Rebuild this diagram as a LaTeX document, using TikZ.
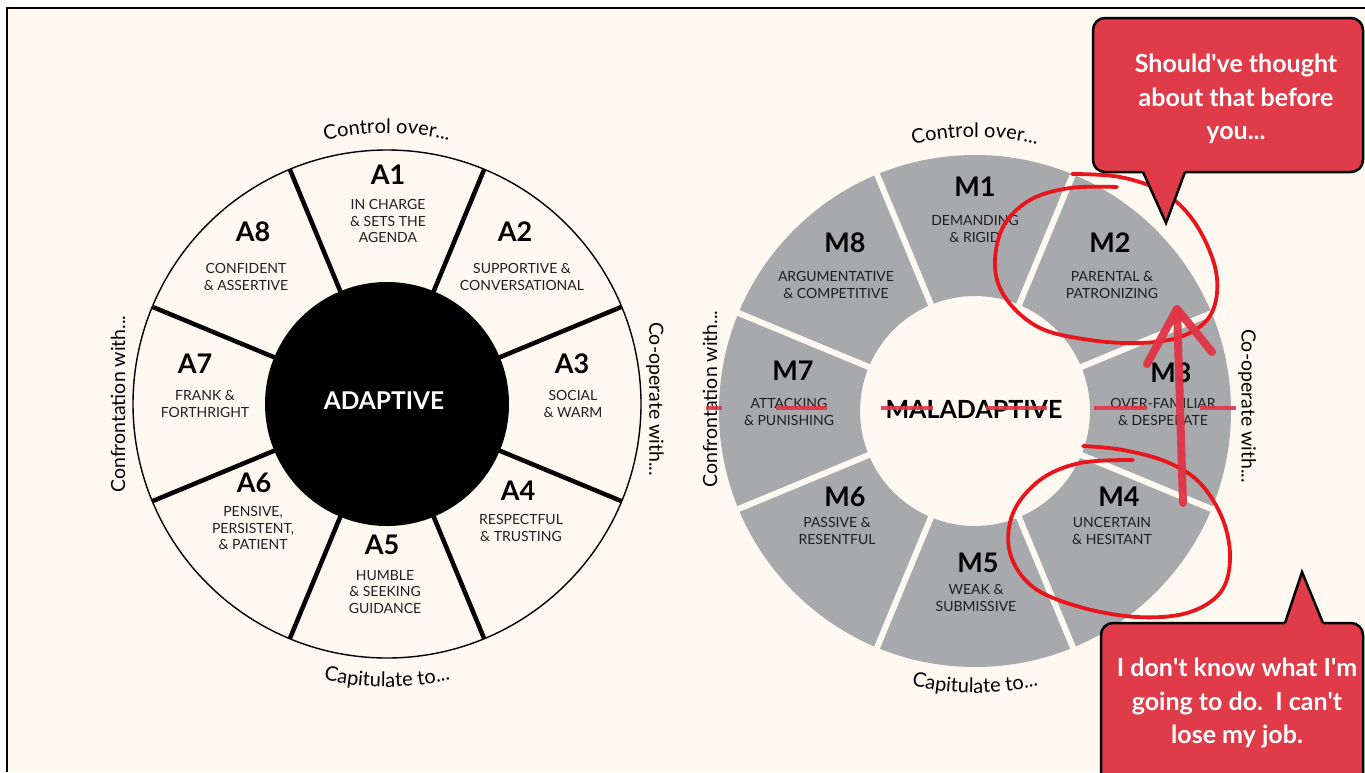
\documentclass[tikz,border=0pt]{standalone}
\usepackage{fontspec}
\setmainfont{Lato}
\usetikzlibrary{decorations.text}
\definecolor{bg}{RGB}{253,249,241}
\definecolor{wheelgray}{RGB}{167,169,172}
\definecolor{callred}{RGB}{224,59,73}
\definecolor{inkred}{RGB}{232,22,28}
\definecolor{arrowred}{RGB}{226,52,70}
\tikzset{
 wtitle/.style={font=\fontsize{27}{27}\selectfont\bfseries, text=black, inner sep=0},
 wdesc/.style={font=\fontsize{14}{16.3}\selectfont, align=center, inner sep=0, text=black!88},
 sidelbl/.style={font=\fontsize{19.5}{19.5}\selectfont, inner sep=0},
 spoke/.style={line width=4.5, draw=black},
 gapline/.style={line width=6, draw=bg},
 inkloop/.style={draw=inkred, line width=3.8, line cap=round},
 redmark/.style={draw=arrowred, line width=3.5, opacity=0.9},
 bubble/.style={fill=callred, draw=black, line width=2.5, rounded corners=12},
 bubbletext/.style={font=\fontsize{25}{33.5}\selectfont\bfseries, text=white, align=center, inner sep=0},
}
\begin{document}
\begin{tikzpicture}[x=1pt,y=-1pt]
\useasboundingbox (0,0) rectangle (1365,772);
\fill[white] (0,0) rectangle (1365,772);
\fill[bg] (7,8) rectangle (1365,772);
\draw[line width=2.5] (7,772) -- (7,8) -- (1365,8);

% ---------- left wheel ----------
\coordinate (LC) at (387,404);
\draw[line width=1.4] (LC) circle (254);
\foreach \a in {22.5,67.5,...,337.5}
  \draw[spoke] ([shift={(\a:118)}]LC) -- ([shift={(\a:254)}]LC);
\fill[black] (LC) circle (122);
\node[font=\fontsize{24.5}{24.5}\selectfont\bfseries, text=white, inner sep=0] (adaptive) at (384,401) {ADAPTIVE};

\node[wtitle] (a1t) at (388,175) {A1};
\node[wdesc] (a1d) at (388,221) {IN CHARGE\\\& SETS THE\\AGENDA};
\node[wtitle] (a2t) at (515,232) {A2};
\node[wdesc] (a2d) at (522,277) {SUPPORTIVE \&\\CONVERSATIONAL};
\node[wtitle] (a3t) at (572,364) {A3};
\node[wdesc] (a3d) at (573,404) {SOCIAL\\\& WARM};
\node[wtitle] (a4t) at (518,491) {A4};
\node[wdesc] (a4d) at (521,528) {RESPECTFUL\\\& TRUSTING};
\node[wtitle] (a5t) at (382,545) {A5};
\node[wdesc] (a5d) at (385,592) {HUMBLE\\\& SEEKING\\GUIDANCE};
\node[wtitle] (a6t) at (254,483) {A6};
\node[wdesc] (a6d) at (253,528) {PENSIVE,\\PERSISTENT,\\\& PATIENT};
\node[wtitle] (a7t) at (195,364) {A7};
\node[wdesc] (a7d) at (205,404) {FRANK \&\\FORTHRIGHT};
\node[wtitle] (a8t) at (253,232) {A8};
\node[wdesc] (a8d) at (246,277) {CONFIDENT\\\& ASSERTIVE};

\path[decorate, decoration={text along path, text align=center,
  text={|\fontsize{20}{20}\selectfont|Control over...}}]
  ([shift={(-118:271)}]LC) arc[start angle=-118, end angle=-62, radius=271];
\path[decorate, decoration={text along path, text align=center,
  text={|\fontsize{20}{20}\selectfont|Capitulate to...}}]
  ([shift={(-240:283)}]LC) arc[start angle=-240, end angle=-300, radius=283];
\node[sidelbl, rotate=90] (lconf) at (118,404) {Confrontation with...};
\node[sidelbl, rotate=-90] (lcoop) at (655,399) {Co-operate with...};

% ---------- right wheel ----------
\coordinate (RC) at (975,411);
\fill[wheelgray, even odd rule] (RC) circle (256) (RC) circle (115);
\foreach \a in {22.5,67.5,...,337.5}
  \draw[gapline] ([shift={(\a:108)}]RC) -- ([shift={(\a:262)}]RC);
\node[font=\fontsize{25}{25}\selectfont\bfseries, text=black, inner sep=0] (maladaptive) at (974,409) {MALADAPTIVE};

\node[wtitle] (m1t) at (975,187) {M1};
\node[wdesc] (m1d) at (975,229) {DEMANDING\\\& RIGID};
\node[wtitle] (m2t) at (1110,243) {M2};
\node[wdesc] (m2d) at (1112,285) {PARENTAL \&\\PATRONIZING};
\node[wtitle] (m3t) at (1171,373) {M3};
\node[wdesc] (m3d) at (1163,412) {OVER-FAMILIAR\\\& DESPERATE};
\node[wtitle] (m4t) at (1119,497) {M4};
\node[wdesc] (m4d) at (1112,531) {UNCERTAIN\\\& HESITANT};
\node[wtitle] (m5t) at (978,563) {M5};
\node[wdesc] (m5d) at (976,598) {WEAK \&\\SUBMISSIVE};
\node[wtitle] (m6t) at (845,497) {M6};
\node[wdesc] (m6d) at (837,531) {PASSIVE \&\\RESENTFUL};
\node[wtitle] (m7t) at (793,371) {M7};
\node[wdesc] (m7d) at (789,412) {ATTACKING\\\& PUNISHING};
\node[wtitle] (m8t) at (845,243) {M8};
\node[wdesc] (m8d) at (836,285) {ARGUMENTATIVE\\\& COMPETITIVE};

\path[decorate, decoration={text along path, text align=center,
  text={|\fontsize{20}{20}\selectfont|Control over...}}]
  ([shift={(-118:274)}]RC) arc[start angle=-118, end angle=-62, radius=274];
\path[decorate, decoration={text along path, text align=center,
  text={|\fontsize{20}{20}\selectfont|Capitulate to...}}]
  ([shift={(-240:282)}]RC) arc[start angle=-240, end angle=-300, radius=282];
\node[sidelbl, rotate=90] (rconf) at (710,399) {Confrontation with...};
\node[sidelbl, rotate=-90] (rcoop) at (1247,406) {Co-operate with...};

% ---------- red strike marks ----------
\foreach \s/\e in {706/722, 776/827, 881/933, 986/1047, 1094/1147, 1200/1236}
  \draw[redmark] (\s,408) -- (\e,408);

% ---------- hand-drawn loops ----------
\draw[inkloop] plot[smooth, tension=0.6] coordinates {(1072,174) (1120,177) (1163,192) (1193,220) (1213,260) (1217,293) (1207,320) (1180,337) (1140,343) (1090,340) (1040,328) (1007,300) (995,267) (1003,227) (1030,200) (1070,188) (1117,187)};
\draw[inkloop] plot[smooth, tension=0.6] coordinates {(1083,446) (1123,450) (1167,462) (1200,483) (1223,520) (1230,560) (1220,593) (1187,613) (1137,617) (1080,607) (1033,587) (1010,553) (1013,513) (1040,480) (1080,463) (1133,460)};

% ---------- arrow ----------
\coordinate (arrtail) at (1183,503);
\coordinate (arrtip) at (1177,309);
\coordinate (arrl) at (1147,364);
\coordinate (arrr) at (1212,352);
\draw[draw=arrowred, line width=8, line cap=round, opacity=0.95] (arrtail) -- (arrtip);
\draw[draw=arrowred, line width=8, line cap=round, line join=round, opacity=0.95] (arrl) -- (arrtip) -- (arrr);

% ---------- callouts ----------
\draw[bubble] (1093,18) rectangle (1363,172);
\fill[callred] (1142,169) -- (1166,223) -- (1186,169) -- cycle;
\draw[line width=2.5, line join=miter] (1143,172) -- (1166,223) -- (1185,172);
\node[bubbletext] (say1) at (1236,99) {Should\textquotesingle ve thought\\about that before\\you...};

\draw[bubble] (1101,623) rectangle (1363,790);
\fill[callred] (1284,626) -- (1302,572) -- (1324,626) -- cycle;
\draw[line width=2.5, line join=miter] (1285,623) -- (1302,572) -- (1323,623);
\node[bubbletext] (say2) at (1237,703) {I don\textquotesingle t know what I\textquotesingle m\\going to do.\ \ I can\textquotesingle t\\lose my job.};
\end{tikzpicture}
\end{document}
